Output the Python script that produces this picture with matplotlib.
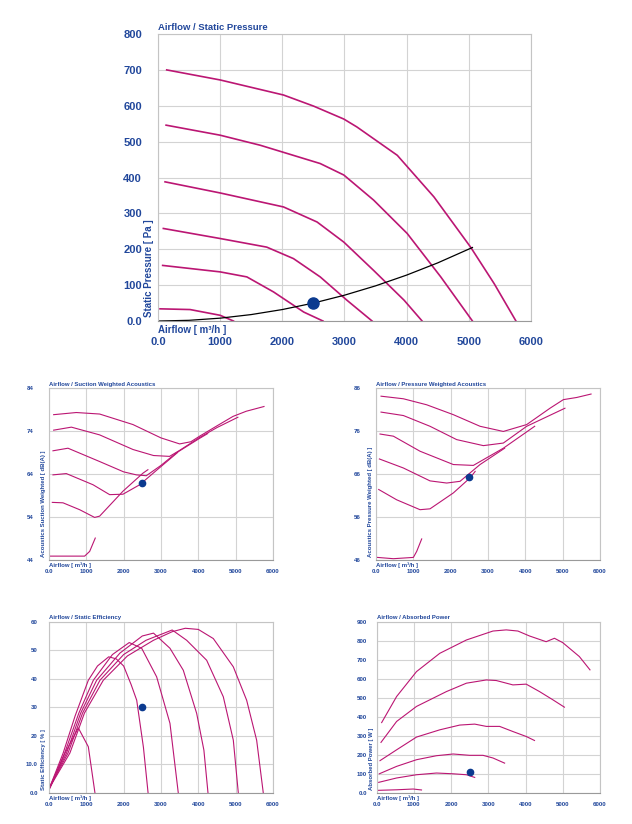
import matplotlib
matplotlib.use("Agg")
import matplotlib.pyplot as plt

plt.rcParams['font.family'] = ['Liberation Sans', 'DejaVu Sans']

BLUE = '#21479b'
CURVE = '#bb1673'
GRID = '#d3d3d3'

# ---- Airflow / Static Pressure (Pa) ----
sp_x = [
    [140, 1000, 2020, 2505, 2990, 3200, 3850, 4440, 5030, 5410, 5760],
    [130, 1000, 1645, 2610, 2990, 3470, 4010, 4550, 5060],
    [113, 1000, 2020, 2560, 2990, 3470, 3960, 4250],
    [86, 1000, 1750, 2180, 2610, 3040, 3445],
    [75, 1000, 1430, 1860, 2345, 2655],
    [32, 516, 1000, 1215],
]
sp_y = [
    [700, 672, 630, 599, 563, 541, 462, 346, 206, 104, 0],
    [546, 518, 490, 439, 407, 337, 244, 123, 0],
    [388, 357, 318, 276, 220, 141, 58, 0],
    [258, 230, 206, 174, 123, 58, 0],
    [155, 137, 123, 81, 25, 0],
    [34, 32, 16, 0],
]
sys_x = [0, 500, 1000, 1500, 2000, 2500, 3000, 3500, 4000, 4500, 5060]
sys_y = [0, 2, 8, 18, 32, 50, 72, 98, 128, 162, 205]
op_flow = 2500
op_pressure = 50

# ---- Suction weighted acoustics dB(A) ----
sa_x = [
    [125, 732, 1357, 2250, 3000, 3500, 3800, 4036, 4500, 4930, 5285, 5760],
    [125, 600, 1357, 2250, 2800, 3230, 3500, 4036, 4500, 5060],
    [107, 509, 1357, 2000, 2340, 2607, 3000, 3410, 4036, 4250],
    [107, 464, 1180, 1625, 1982, 2430, 2900, 3445],
    [89, 375, 821, 1223, 1357, 1982, 2518, 2650],
    [18, 955, 1090, 1240],
]
sa_y = [
    [77.8, 78.3, 77.95, 75.5, 72.4, 71.0, 71.5, 72.8, 75.2, 77.4, 78.6, 79.7],
    [74.2, 74.9, 73.1, 69.7, 68.3, 68.1, 69.5, 72.5, 74.8, 77.2],
    [69.4, 70.0, 66.9, 64.5, 63.8, 63.6, 66.0, 68.9, 72.3, 73.4],
    [63.8, 64.1, 61.5, 59.2, 59.3, 61.5, 65.0, 69.0],
    [57.4, 57.3, 55.7, 53.9, 54.2, 60.0, 64.2, 65.0],
    [44.9, 44.9, 46.0, 49.1],
]
op_suction = 61.9

# ---- Pressure weighted acoustics dB(A) ----
pa_x = [
    [134, 732, 1357, 2071, 2786, 3410, 4036, 4660, 5018, 5375, 5760],
    [134, 732, 1446, 2160, 2875, 3410, 4036, 5060],
    [107, 464, 1178, 2071, 2607, 3410, 4250],
    [89, 732, 1446, 1893, 2250, 2786, 3445],
    [71, 553, 1178, 1446, 2071, 2518, 2655],
    [36, 464, 1000, 1089, 1223],
]
pa_y = [
    [84.1, 83.5, 82.1, 79.8, 77.1, 75.9, 77.5, 81.3, 83.3, 83.8, 84.6],
    [80.4, 79.6, 77.1, 74.0, 72.6, 73.2, 77.1, 81.3],
    [75.3, 74.8, 71.3, 68.2, 68.0, 72.0, 77.1],
    [69.5, 67.4, 64.4, 63.9, 64.3, 68.2, 72.0],
    [62.4, 60.0, 57.7, 57.9, 61.6, 65.1, 66.6],
    [46.6, 46.3, 46.6, 48.0, 50.9],
]
op_press_ac = 65.2

# ---- Static efficiency (%) ----
ef_x = [
    [20, 560, 950, 1455, 2100, 2800, 3300, 3650, 4000, 4402, 4938, 5295, 5563, 5741],
    [20, 510, 900, 1366, 2000, 2600, 3300, 3688, 4224, 4670, 4938, 5072],
    [20, 470, 850, 1277, 1900, 2500, 2800, 3241, 3598, 3956, 4150, 4260],
    [20, 420, 800, 1188, 1700, 2150, 2483, 2884, 3241, 3464],
    [20, 380, 700, 1054, 1300, 1600, 1800, 2000, 2200, 2350, 2530, 2655],
    [27, 430, 786, 1054, 1232],
]
ef_y = [
    [2, 14, 28, 39.5, 48, 53.5, 56.5, 57.7, 57.3, 54.1, 44.2, 32.5, 18.5, 0],
    [2, 14, 28, 39.5, 48.5, 53.5, 57.1, 53.5, 46.5, 33.7, 18.5, 0],
    [2, 14, 28, 39.5, 49, 55, 56, 50.7, 43, 27.9, 15, 0],
    [2, 14, 28, 39.5, 48.5, 52.7, 50.7, 40.7, 24.4, 0],
    [2, 14, 27, 39.5, 44.5, 47.7, 47, 44.5, 38, 32.5, 16, 0],
    [1.7, 14, 22.8, 16.2, 0],
]
op_eff = 30.3

# ---- Absorbed power (W) ----
pw_x = [
    [134, 536, 1071, 1696, 2411, 3125, 3482, 3795, 4107, 4554, 4777, 5000, 5446, 5732],
    [116, 536, 1071, 1875, 2411, 2946, 3214, 3661, 4018, 4375, 4732, 5045],
    [89, 536, 1071, 1696, 2232, 2634, 2946, 3304, 3661, 4018, 4241],
    [71, 536, 1071, 1607, 2054, 2500, 2857, 3125, 3438],
    [54, 536, 1071, 1607, 2054, 2411, 2634],
    [18, 536, 982, 1205],
]
pw_y = [
    [370, 507, 638, 734, 804, 851, 857, 851, 825, 795, 813, 790, 717, 647],
    [266, 376, 455, 533, 577, 594, 591, 568, 572, 533, 490, 451],
    [170, 227, 294, 332, 357, 362, 350, 350, 323, 297, 276],
    [101, 140, 175, 196, 205, 198, 198, 184, 157],
    [56, 79, 96, 105, 101, 96, 82],
    [14, 17, 21, 16],
]
op_power = 112

flow_ticks = [0, 1000, 2000, 3000, 4000, 5000, 6000]
flow_labels = ['0.0', '1000', '2000', '3000', '4000', '5000', '6000']


def style(ax, title, ylabel, yticks, ylabels, fs, tfs, xpad, ypad, lfs):
    ax.set_xlim(0, 6000)
    ax.set_ylim(yticks[0], yticks[-1])
    ax.set_xticks(flow_ticks)
    ax.set_xticklabels(flow_labels)
    ax.set_yticks(yticks)
    ax.set_yticklabels(ylabels)
    ax.tick_params(length=0, labelsize=fs, labelcolor=BLUE, pad=0)
    ax.tick_params(axis='x', pad=xpad)
    ax.tick_params(axis='y', pad=ypad)
    for lab in ax.get_xticklabels() + ax.get_yticklabels():
        lab.set_fontweight('bold')
    ax.grid(True, color=GRID, lw=0.8)
    ax.set_axisbelow(True)
    for s in ax.spines.values():
        s.set_color('#c4c4c4')
        s.set_linewidth(0.8)
    ax.spines['bottom'].set_color('#9a9a9a')
    ax.text(0, 1.008, title, transform=ax.transAxes, ha='left', va='bottom',
            color=BLUE, fontsize=tfs, fontweight='bold')
    ax.text(-0.012, 0.015, ylabel, transform=ax.transAxes, ha='right', va='bottom',
            rotation=90, color=BLUE, fontsize=lfs, fontweight='bold')
    ax.text(0, -0.014, 'Airflow [ m³/h ]', transform=ax.transAxes, ha='left', va='top',
            color=BLUE, fontsize=lfs, fontweight='bold')


fig = plt.figure(figsize=(6.32, 8.24), dpi=100)

# top chart
ax = fig.add_axes([0.25, 0.6104, 0.590, 0.3483])
for xs, ys in zip(sp_x, sp_y):
    ax.plot(xs, ys, color=CURVE, lw=1.2)
ax.plot(sys_x, sys_y, color='black', lw=0.9)
ax.plot(op_flow, op_pressure, 'o', color='#0b3a8f', ms=8, zorder=5)
style(ax, 'Airflow / Static Pressure', 'Static Pressure [ Pa ]',
      list(range(0, 801, 100)), ['0.0'] + [str(v) for v in range(100, 801, 100)],
      fs=8, tfs=6.8, xpad=11.5, ypad=11.5, lfs=7)

small = [
    ([0.0775, 0.3204, 0.3544, 0.2087], sa_x, sa_y, op_suction,
     'Airflow / Suction Weighted Acoustics', 'Acoustics Suction Weighted [ dB(A) ]',
     [44, 54, 64, 74, 84], ['44', '54', '64', '74', '84'], 11),
    ([0.595, 0.3204, 0.3544, 0.2087], pa_x, pa_y, op_press_ac,
     'Airflow / Pressure Weighted Acoustics', 'Acoustics Pressure Weighted [ dB(A) ]',
     [46, 56, 66, 76, 86], ['46', '56', '66', '76', '86'], 11),
    ([0.0775, 0.0376, 0.3544, 0.2079], ef_x, ef_y, op_eff,
     'Airflow / Static Efficiency', 'Static Efficiency [ % ]',
     [0, 10, 20, 30, 40, 50, 60], ['0.0', '10.0', '20', '30', '40', '50', '60'], 8),
    ([0.596, 0.0376, 0.3533, 0.2079], pw_x, pw_y, op_power,
     'Airflow / Absorbed Power', 'Absorbed Power [ W ]',
     list(range(0, 901, 100)), ['0.0'] + [str(v) for v in range(100, 901, 100)], 7),
]

for rect, cx, cy, op, title, ylab, yt, yl, ypad in small:
    ax = fig.add_axes(rect)
    for xs, ys in zip(cx, cy):
        ax.plot(xs, ys, color=CURVE, lw=0.8)
    ax.plot(op_flow, op, 'o', color='#0b3a8f', ms=4.5, zorder=5)
    style(ax, title, ylab, yt, yl, fs=4.4, tfs=4.3, xpad=6.5, ypad=ypad, lfs=4.3)

fig.savefig('out.png', dpi=100)
